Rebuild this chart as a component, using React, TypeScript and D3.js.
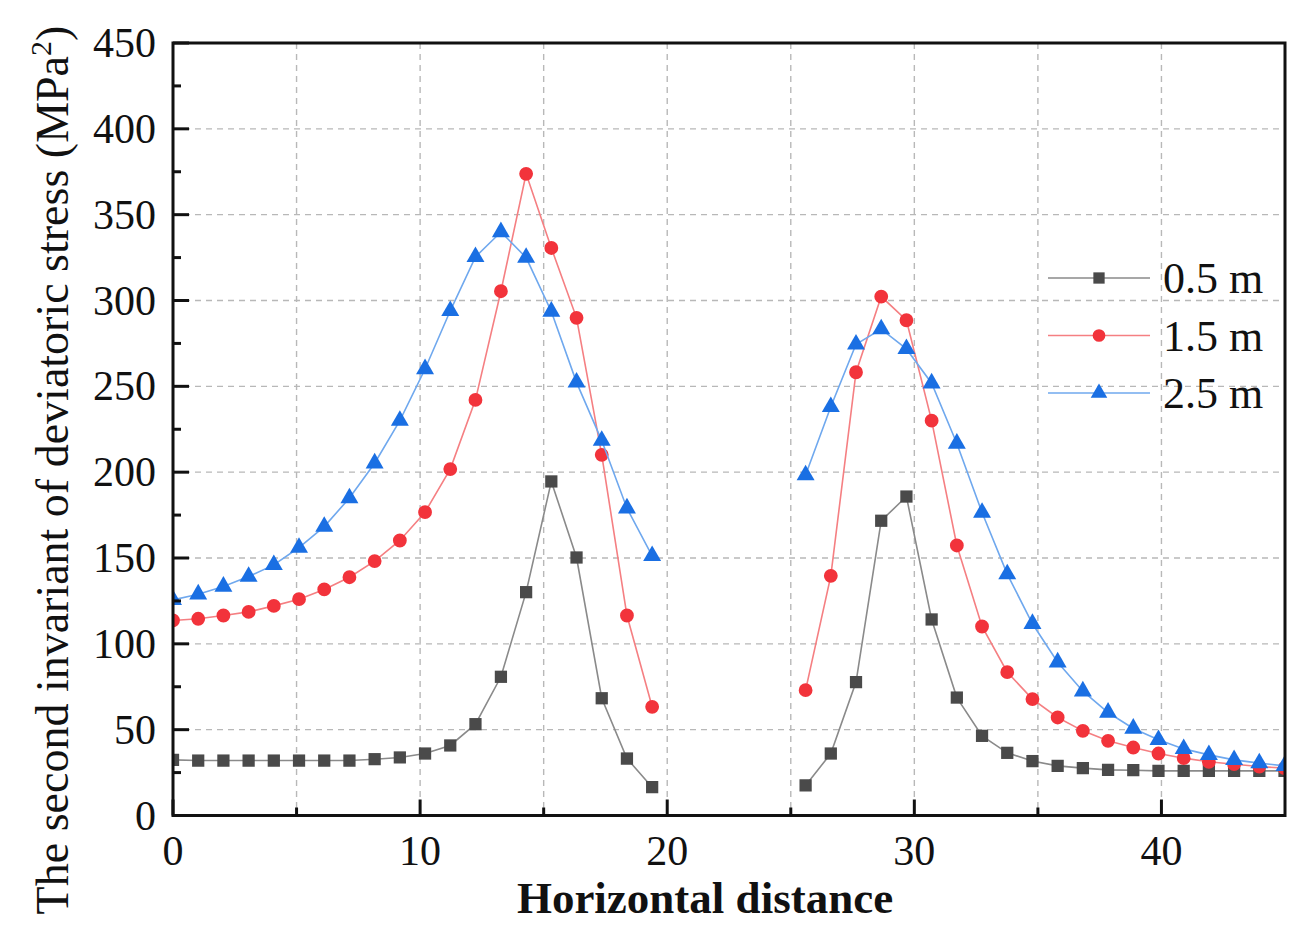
import React from "react";
import * as d3 from "d3";

const xLeft = [0, 1.02, 2.04, 3.06, 4.08, 5.1, 6.12, 7.14, 8.16, 9.18, 10.2, 11.22, 12.24, 13.27, 14.29, 15.31, 16.33, 17.35, 18.37, 19.39];
const xRight = [25.6, 26.62, 27.64, 28.66, 29.68, 30.7, 31.72, 32.74, 33.76, 34.78, 35.8, 36.82, 37.84, 38.86, 39.88, 40.9, 41.92, 42.94, 43.96, 44.98];

const s05Left = [32.4, 32, 32, 32, 32, 32, 32, 32, 32.8, 33.8, 36.1, 40.8, 53.2, 80.8, 130.1, 194.6, 150.3, 68.3, 33.2, 16.5];
const s05Right = [17.5, 36.1, 77.7, 171.7, 185.8, 114.2, 68.7, 46.4, 36.5, 31.7, 28.9, 27.6, 26.6, 26.4, 26, 26, 26, 26, 26, 26];

const s15Left = [113.6, 114.6, 116.5, 118.6, 122.1, 126, 131.7, 138.8, 148.2, 160.2, 176.7, 201.8, 242.1, 305.4, 373.8, 330.6, 289.9, 210.1, 116.5, 63.3];
const s15Right = [73, 139.6, 258.2, 302.3, 288.5, 230, 157.3, 110.1, 83.5, 67.8, 57.1, 49.3, 43.5, 39.6, 36.1, 33.4, 31.3, 29.9, 28.5, 27.6];

const s25Left = [125.6, 128.9, 133.4, 139.2, 146, 156.1, 168.3, 184.9, 205.2, 230, 260.1, 294, 325.4, 339.9, 325, 293.6, 252.3, 218.4, 179, 151.3];
const s25Right = [198.3, 238.1, 274.5, 283.3, 271.8, 251.8, 216.7, 176.5, 140.6, 111.7, 89.3, 72.4, 60, 50.7, 44.1, 38.8, 35.3, 32.4, 30.5, 28.9];

const seriesNames = ["0.5 m", "1.5 m", "2.5 m"];
const xTicks = [0, 10, 20, 30, 40];
const xMinorTicks = [5, 15, 25, 35];
const yTicks = [0, 50, 100, 150, 200, 250, 300, 350, 400, 450];
const yMinorTicks = [25, 75, 125, 175, 225, 275, 325, 375, 425];
const xTitle = "Horizontal distance";
const yTitle = "The second invariant of deviatoric stress (MPa";

const W = 1311;
const H = 950;
const L = 173;
const R = 1285;
const T = 43;
const B = 815.5;

const FONT = "'Liberation Serif', 'Times New Roman', serif";

export default function App() {
  const x = d3.scaleLinear().domain([0, 45]).range([L, R]);
  const y = d3.scaleLinear().domain([0, 450]).range([B, T]);

  const series = [
    { name: seriesNames[0], left: s05Left, right: s05Right, line: "#8a8a8a", fill: "#4a4a4a", sym: d3.symbolSquare, size: 150 },
    { name: seriesNames[1], left: s15Left, right: s15Right, line: "#f57f82", fill: "#f2333b", sym: d3.symbolCircle, size: 150 },
    { name: seriesNames[2], left: s25Left, right: s25Right, line: "#6fa8ee", fill: "#1a6fe3", sym: d3.symbolTriangle, size: 140 },
  ];

  const lineGen = d3
    .line<[number, number]>()
    .x((d) => x(d[0]))
    .y((d) => y(d[1]))
    .curve(d3.curveLinear);

  const gridX = d3.range(5, 45, 5);
  const gridY = yTicks.filter((v) => v > 0 && v < 450);

  return (
    <svg width={W} height={H} style={{ position: "absolute", left: 0, top: 0, background: "#fff" }} fontFamily={FONT}>
      <defs>
        <clipPath id="plotClip">
          <rect x={L} y={T} width={R - L} height={B - T} />
        </clipPath>
      </defs>
      <rect x={0} y={0} width={W} height={H} fill="#fff" />
      {/* grid */}
      <g stroke="#b8b8b8" strokeWidth={1.4} strokeDasharray="6,5">
        {gridX.map((v) => (
          <line key={"gx" + v} x1={x(v)} x2={x(v)} y1={T} y2={B} />
        ))}
        {gridY.map((v) => (
          <line key={"gy" + v} x1={L} x2={R} y1={y(v)} y2={y(v)} />
        ))}
      </g>
      {/* series */}
      <g clipPath="url(#plotClip)">
        {series.map((s) => {
          const leftPts: [number, number][] = xLeft.map((xv, i) => [xv, s.left[i]]);
          const rightPts: [number, number][] = xRight.map((xv, i) => [xv, s.right[i]]);
          const sym = d3.symbol().type(s.sym).size(s.size)();
          return (
            <g key={s.name}>
              <path d={lineGen(leftPts) || ""} fill="none" stroke={s.line} strokeWidth={1.6} />
              <path d={lineGen(rightPts) || ""} fill="none" stroke={s.line} strokeWidth={1.6} />
              {leftPts.concat(rightPts).map((p, i) => (
                <path key={i} d={sym || ""} transform={`translate(${x(p[0])},${y(p[1])})`} fill={s.fill} />
              ))}
            </g>
          );
        })}
      </g>
      {/* frame */}
      <rect x={L} y={T} width={R - L} height={B - T} fill="none" stroke="#111" strokeWidth={3} />
      {/* ticks */}
      <g stroke="#111" strokeWidth={3}>
        {xTicks.map((v) => (
          <line key={"xt" + v} x1={x(v)} x2={x(v)} y1={B} y2={B - 16} />
        ))}
        {xMinorTicks.map((v) => (
          <line key={"xm" + v} x1={x(v)} x2={x(v)} y1={B} y2={B - 8} />
        ))}
        {yTicks.map((v) => (
          <line key={"yt" + v} x1={L} x2={L + 16} y1={y(v)} y2={y(v)} />
        ))}
        {yMinorTicks.map((v) => (
          <line key={"ym" + v} x1={L} x2={L + 8} y1={y(v)} y2={y(v)} />
        ))}
      </g>
      {/* tick labels */}
      <g fontSize={42} fill="#111">
        {xTicks.map((v) => (
          <text key={"xl" + v} x={x(v)} y={865} textAnchor="middle">
            {v}
          </text>
        ))}
        {yTicks.map((v) => (
          <text key={"yl" + v} x={156} y={y(v) + 14} textAnchor="end">
            {v}
          </text>
        ))}
      </g>
      {/* axis titles */}
      <text x={(512 + 898) / 2} y={913} textAnchor="middle" fontSize={45} fontWeight="bold" fill="#111">
        {xTitle}
      </text>
      <text transform={`translate(68,470) rotate(-90)`} textAnchor="middle" fontSize={46} fill="#111">
        {yTitle}
        <tspan fontSize={30} dy={-17}>2</tspan>
        <tspan dy={17}>)</tspan>
      </text>
      {/* legend */}
      {series.map((s, i) => {
        const cy = 278 + i * 57.5;
        const sym = d3.symbol().type(s.sym).size(s.size * 0.85)();
        return (
          <g key={"lg" + i}>
            <line x1={1048} x2={1150} y1={cy} y2={cy} stroke={s.line} strokeWidth={1.6} />
            <path d={sym || ""} transform={`translate(1099,${cy})`} fill={s.fill} />
            <text x={1163} y={cy + 15} fontSize={44} fill="#111">
              {s.name}
            </text>
          </g>
        );
      })}
    </svg>
  );
}
